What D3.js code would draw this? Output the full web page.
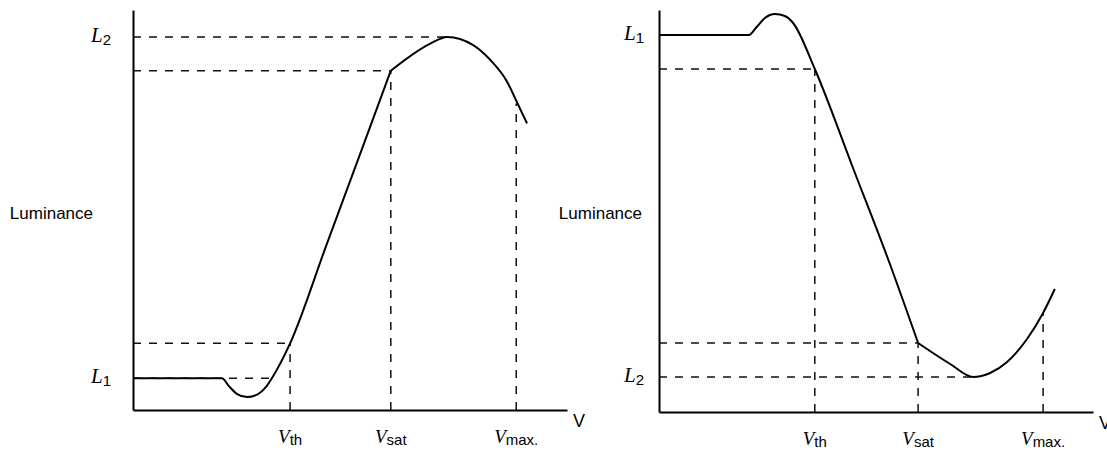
<!DOCTYPE html>
<html>
<head>
<meta charset="utf-8">
<script src="https://cdn.jsdelivr.net/npm/d3@7"></script>
<style>
  html, body { margin: 0; padding: 0; background: #fff; }
  svg { display: block; }
</style>
</head>
<body>
<svg id="chart" width="1107" height="450"></svg>
<script>
// Luminance–voltage response curves (normally black, left; normally white, right)

// Voltage marks on the horizontal axis (subscripts of V)
const voltageNames = ["th", "sat", "max."];

// Left panel: luminance rises with voltage
const leftVoltages = [36.2, 59.4, 88.3];            // Vth, Vsat, Vmax
const leftLevelNames = ["1", "2"];
const leftLevels = [8, 93.75];                       // L1, L2
const leftRise = [
  [0, 8], [20.5, 8], [22.1, 6], [24.0, 4], [26.3, 3.25], [28.8, 4],
  [30.6, 5.75], [32.0, 8], [36.2, 16.75], [44.5, 41.25], [53.0, 66.3], [59.4, 85.25]
];
const leftPeak = [
  [59.4, 85.25], [68.4, 92], [72.4, 93.75], [78.3, 91.75], [82.3, 88],
  [86.2, 82.5], [88.5, 77.25], [90.8, 72]
];
// dashed guides: horizontal [level, end voltage], vertical [voltage, end level]
const leftHGuides = [[8, 32.0], [16.75, 36.2], [85.25, 59.4], [93.75, 72.4]];
const leftVGuides = [[36.2, 16.75], [59.4, 85.25], [88.3, 77]];

// Right panel: luminance falls with voltage
const rightVoltages = [35.9, 59.7, 88.5];
const rightLevelNames = ["1", "2"];
const rightLevels = [94.25, 8.75];
const rightFall = [
  [0, 94.25], [20.7, 94.25], [22.5, 96.25], [24.4, 98.5], [26.7, 99.5],
  [29.0, 99], [30.9, 97.25], [35.9, 85.75], [44.7, 61], [53.2, 37], [59.7, 17.25]
];
const rightValley = [
  [59.7, 17.25], [67.1, 12], [72.4, 8.75], [76.3, 9.75], [80.2, 12.5],
  [84.8, 18.25], [88.5, 24.75], [91.2, 30.75]
];
const rightHGuides = [[85.75, 35.9], [17.25, 59.7], [8.75, 72.4]];
const rightVGuides = [[35.9, 85.75], [59.7, 17.25], [88.5, 24.75]];

const panels = [
  { left: 133, right: 567, bottom: 410, top: 10, lumGap: 40, levelGap: 22,
    voltages: leftVoltages, levels: leftLevels, levelNames: leftLevelNames,
    pieces: [leftRise, leftPeak], hGuides: leftHGuides, vGuides: leftVGuides },
  { left: 659, right: 1093, bottom: 412, top: 10, lumGap: 17, levelGap: 15,
    voltages: rightVoltages, levels: rightLevels, levelNames: rightLevelNames,
    pieces: [rightFall, rightValley], hGuides: rightHGuides, vGuides: rightVGuides }
];

const svg = d3.select("#chart");
const serif = "'Liberation Serif', 'DejaVu Serif', serif";
const sans = "'Liberation Sans', Arial, sans-serif";

panels.forEach(p => {
  const x = d3.scaleLinear().domain([0, 100]).range([p.left, p.right]);
  const y = d3.scaleLinear().domain([0, 100]).range([p.bottom, p.top + 2]);
  const g = svg.append("g");

  // dashed reference lines
  const dash = g.append("g")
    .attr("stroke", "#111").attr("stroke-width", 1.5)
    .attr("stroke-dasharray", "8,8").attr("fill", "none");
  dash.selectAll("line.h").data(p.hGuides).join("line")
    .attr("class", "h")
    .attr("x1", x(0)).attr("x2", d => x(d[1]))
    .attr("y1", d => y(d[0])).attr("y2", d => y(d[0]));
  dash.selectAll("line.v").data(p.vGuides).join("line")
    .attr("class", "v")
    .attr("x1", d => x(d[0])).attr("x2", d => x(d[0]))
    .attr("y1", y(0)).attr("y2", d => y(d[1]));

  // axes (lines only)
  const xAxis = d3.axisBottom(x).tickValues([]).tickSizeOuter(0);
  const yAxis = d3.axisLeft(d3.scaleLinear().domain([0, 100]).range([p.bottom, p.top]))
    .tickValues([]).tickSizeOuter(0);
  g.append("g").attr("transform", `translate(0,${p.bottom})`).call(xAxis)
    .select(".domain").attr("stroke", "#000").attr("stroke-width", 2);
  g.append("g").attr("transform", `translate(${p.left},0)`).call(yAxis)
    .select(".domain").attr("stroke", "#000").attr("stroke-width", 2);

  // response curve
  const line = d3.line().x(d => x(d[0])).y(d => y(d[1])).curve(d3.curveMonotoneX);
  g.selectAll("path.curve").data(p.pieces).join("path")
    .attr("class", "curve")
    .attr("d", line)
    .attr("fill", "none").attr("stroke", "#000")
    .attr("stroke-width", 2).attr("stroke-linejoin", "round");

  // voltage labels
  const vt = g.selectAll("text.vt").data(p.voltages).join("text")
    .attr("class", "vt")
    .attr("x", d => x(d)).attr("y", p.bottom + 33)
    .attr("text-anchor", "middle");
  vt.append("tspan").text("V")
    .attr("font-family", serif).attr("font-style", "italic").attr("font-size", 19);
  vt.append("tspan").text((d, i) => voltageNames[i])
    .attr("font-family", sans).attr("font-size", 15).attr("dy", 2);

  // luminance level labels
  const lt = g.selectAll("text.lt").data(p.levels).join("text")
    .attr("class", "lt")
    .attr("x", p.left - p.levelGap).attr("y", d => y(d) + 5)
    .attr("text-anchor", "end");
  lt.append("tspan").text("L")
    .attr("font-family", serif).attr("font-style", "italic").attr("font-size", 21);
  lt.append("tspan").text((d, i) => p.levelNames[i])
    .attr("font-family", sans).attr("font-size", 15).attr("dy", 3);

  // axis titles
  g.append("text").text("Luminance")
    .attr("x", p.left - p.lumGap).attr("y", 219)
    .attr("text-anchor", "end")
    .attr("font-family", sans).attr("font-size", 17);
  g.append("text").text("V")
    .attr("x", p.right + 6).attr("y", p.bottom + 17)
    .attr("font-family", sans).attr("font-size", 18);
});
</script>
</body>
</html>
